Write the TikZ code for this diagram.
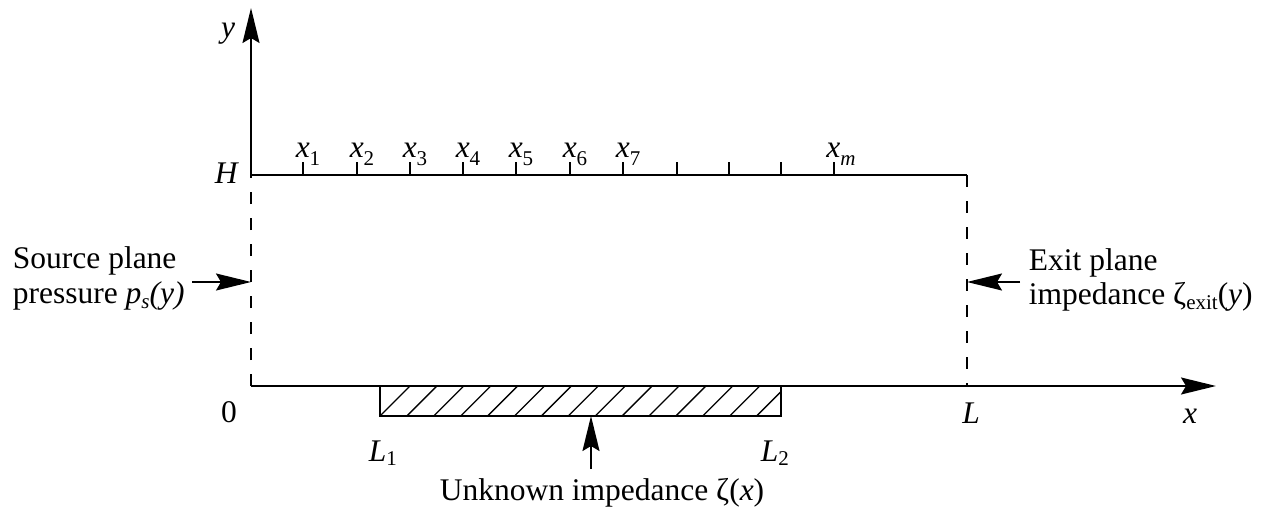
\documentclass[tikz,border=0pt]{standalone}
\usepackage{fontspec}
\setmainfont{Liberation Serif}
\usetikzlibrary{arrows.meta}
\newcommand\sbs[2][-5pt]{\raisebox{#1}{\fontsize{21}{21}\selectfont #2}}
\begin{document}
\begin{tikzpicture}[x=1pt,y=-1pt,
  font=\fontsize{31.5}{35}\selectfont,
  line width=1.8pt,
  arr/.style={-{Stealth[length=35pt,width=17pt,inset=5pt]}},
  dashline/.style={dash pattern=on 12pt off 14pt},
  hatch/.style={line width=1.3pt},
  lbl/.style={inner sep=0pt, anchor=base},
  txt/.style={inner sep=0pt, anchor=base west, align=left}]
\useasboundingbox (0,0) rectangle (1268,513);
% key points
\coordinate (O) at (251,386);
\coordinate (H) at (251,175);
\coordinate (Ytop) at (251,8);
\coordinate (HL) at (967,175);
\coordinate (Lb) at (967,386);
\coordinate (Xend) at (1216,386);
% axes and box
\draw[arr] (H) -- (Ytop);
\draw[dashline] (O) -- (H);
\draw[arr] (O) -- (Xend);
\draw (H) -- (HL);
\draw[dashline] (HL) -- (Lb);
% ticks and labels
\foreach \xx/\lab in {303/1,357/2,410/3,463/4,516/5,570/6,623/7}{
  \draw (\xx,175) -- (\xx,162);
  \node[lbl] (t\lab) at (\xx+5,158) {\textit{x}\sbs[-8pt]{\lab}};
}
\foreach \xx in {677,729,781,834}{\draw (\xx,175) -- (\xx,162);}
\node[lbl] (tm) at (834+7,158) {\textit{x}\sbs[-8pt]{\textit{m}}};
% axis labels
\node[lbl] (ylab) at (228,38) {\textit{y}};
\node[lbl] (Hlab) at (227,183) {\textit{H}};
\node[lbl] (zero) at (229,422) {0};
\node[lbl] (Llab) at (971,423) {\textit{L}};
\node[lbl] (xlab) at (1190,423) {\textit{x}};
% hatched region
\coordinate (R1) at (380,386);
\coordinate (R2) at (781,416);
\begin{scope}
  \clip (R1) rectangle (R2);
  \foreach \k in {0,...,15}{
    \draw[hatch] (380+\k*26.9,416) -- ++(30,-30);
  }
\end{scope}
\draw (R1) rectangle (R2);
\node[inner sep=0pt, anchor=base west] (L1) at (368,461) {\textit{L}\sbs[-4pt]{1}};
\node[inner sep=0pt, anchor=base west] (L2) at (760,461) {\textit{L}\sbs[-4pt]{2}};
% unknown impedance
\coordinate (Utip) at (591,416);
\node[lbl] (unk) at (602,500) {Unknown impedance ζ(\textit{x})};
\coordinate (Utail) at (591,469);
\draw[arr] (Utail) -- (Utip);
% source plane
\node[txt] (src1) at (12,268) {Source plane};
\node[txt] (src2) at (12,303) {pressure \textit{p}\sbs[-5pt]{\textit{s}}\textit{(y)}};
\coordinate (Sa) at (192,282);
\coordinate (Sb) at (251,282);
\draw[arr] (Sa) -- (Sb);
% exit plane
\node[txt] (ex1) at (1028,270) {Exit plane};
\node[txt] (ex2) at (1028,304) {impedance ζ\sbs[-5pt]{exit}(\textit{y\/})};
\coordinate (Ea) at (1020,282);
\coordinate (Eb) at (967,282);
\draw[arr] (Ea) -- (Eb);
\end{tikzpicture}
\end{document}
